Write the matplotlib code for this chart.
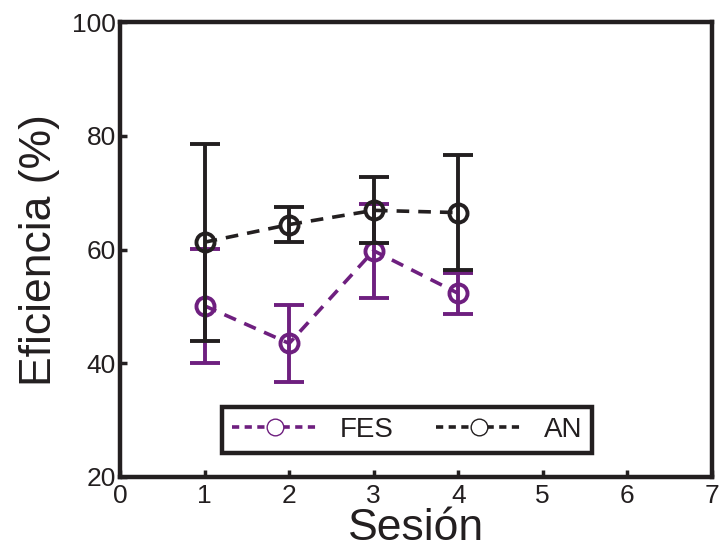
import matplotlib.pyplot as plt
from matplotlib.lines import Line2D

plt.rcParams['font.family'] = ['Liberation Sans', 'DejaVu Sans']

# data
sessions_fes = [1, 2, 3, 4]
fes_mean = [50.1, 43.5, 59.8, 52.3]
fes_err = [10.0, 6.8, 8.3, 3.6]

sessions_an = [1, 2, 3, 4]
an_mean = [61.3, 64.4, 66.9, 66.5]
an_err = [17.3, 3.1, 5.8, 10.1]

labels = ["FES", "AN"]
purple = "#6e1f7f"
black = "#231f20"

fig = plt.figure(figsize=(7.19, 5.54), dpi=100)
ax = fig.add_axes([0.167, 0.139, 0.823, 0.821])

# FES
ax.errorbar(sessions_fes, fes_mean, yerr=fes_err, color=purple,
            linestyle=(0, (3.5, 2.5)), linewidth=2.6, marker="o",
            markersize=13, markerfacecolor="none", markeredgewidth=2.8,
            ecolor=purple, elinewidth=2.8, capsize=11, capthick=2.8, zorder=3)

# AN
ax.errorbar(sessions_an, an_mean, yerr=an_err, color=black,
            linestyle=(0, (3.5, 2.5)), linewidth=2.6, marker="o",
            markersize=13, markerfacecolor="none", markeredgewidth=2.8,
            ecolor=black, elinewidth=2.8, capsize=11, capthick=2.8, zorder=4)

ax.set_xlim(0, 7)
ax.set_ylim(20, 100)
ax.set_xticks(range(0, 8))
ax.set_yticks([20, 40, 60, 80, 100])
ax.tick_params(direction="in", length=5, width=2.5, labelsize=19,
               colors=black, top=False, right=False, pad=3)
ax.tick_params(axis="x", pad=5)
for s in ax.spines.values():
    s.set_linewidth(3.2)
    s.set_color(black)

ax.set_xlabel("Sesión", fontsize=32, color=black, labelpad=0)
ax.set_ylabel("Eficiencia (%)", fontsize=32, color=black, labelpad=9)

handles = [
    Line2D([0], [0], color=purple, linestyle=(0, (2, 1.5)), linewidth=2.6,
           marker="o", markersize=12, markerfacecolor="white",
           markeredgewidth=1.0),
    Line2D([0], [0], color=black, linestyle=(0, (2, 1.5)), linewidth=2.6,
           marker="o", markersize=12, markerfacecolor="white",
           markeredgewidth=1.0),
]
leg = ax.legend(handles, labels, loc="center", bbox_to_anchor=(0.485, 0.103),
                ncol=2, fontsize=20, frameon=True, fancybox=False,
                framealpha=1, handlelength=3.1, columnspacing=1.5,
                handletextpad=0.8, borderpad=0.35, borderaxespad=0)
leg.get_frame().set_edgecolor(black)
leg.get_frame().set_linewidth(3.2)
for t in leg.get_texts():
    t.set_color(black)

fig.savefig("out.png", dpi=100)
